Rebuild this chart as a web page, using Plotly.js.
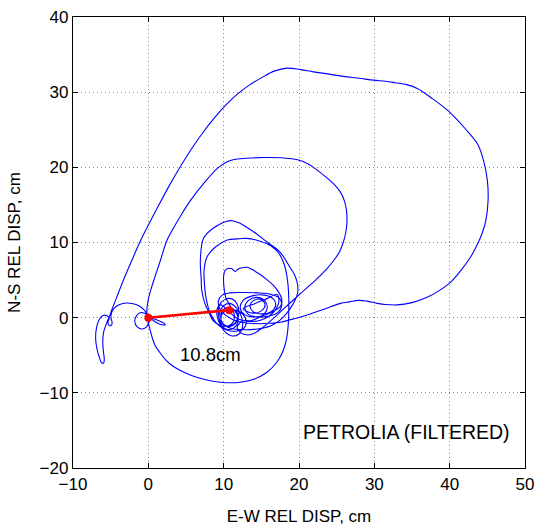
<!DOCTYPE html>
<html>
<head>
<meta charset="utf-8">
<script src="https://cdn.plot.ly/plotly-3.0.1.min.js"></script>
<style>html,body{margin:0;padding:0;background:#fff;}#chart{width:542px;height:526px;}</style>
</head>
<body>
<div id="chart"></div>
<script>
// Ground displacement trajectory (cm)
const ewDisp = [
  0, 0.7, 1.5, 2.1, 2.25, 1.8, 1.0, 0.3,
  0.05, -0.3, -0.9, -1.5, -1.8, -1.6, -1.1, -0.5, -0.1,
  -0.45, -1.2, -2.0, -2.9, -3.8, -4.5, -4.9,
  -4.95, -4.8, -4.95, -5.25, -5.35, -5.2,
  -5.5, -6.0, -6.5, -6.85, -7.0, -6.85, -6.5, -6.2, -5.95, -5.85, -5.95, -6.05, -5.95, -5.6, -5.2,
  -4.75, -4.2, -3.3, -2.2, -1.1, 0.3, 1.5, 2.8, 4.2, 5.7, 7.3, 8.8, 10.3, 11.9, 13.5, 15.0, 16.7, 18.4,
  20.2, 21.9, 24.0, 25.9, 28.0, 29.9, 31.5, 32.8, 34.3, 35.7, 37.5, 39.7, 42.1, 43.7, 44.5, 45.0, 45.1,
  44.8, 44.3, 43.7, 42.8, 41.5, 40.1, 38.6, 37.0, 35.0, 33.0, 31.5, 30.4, 29.0, 27.9, 26.7, 25.5, 23.5,
  21.5, 19.5, 17.5, 16.0, 14.9, 13.5, 12.5,
  11.3, 10.3, 9.5, 9.3, 9.8, 10.8, 12.5, 14.5, 16.3, 17.4, 17.7, 17.2, 16.0, 14.4, 13.2, 12.8, 13.3,
  14.4, 15.4, 15.8, 15.4, 14.6, 13.6, 12.6, 11.8, 12.2, 13.2, 14.2, 15.2, 16.6, 18.2, 20.2, 22.4,
  23.7, 24.6, 25.4, 25.9, 26.2, 26.35, 26.3, 26.0, 25.5, 24.7, 23.7, 22.2, 21.1, 19.8, 18.0, 15.3,
  13.0, 11.4, 10.4, 9.2, 7.3, 5.6, 4.2, 3.1, 2.4, 1.6, 0.9, 0.3, -0.05, -0.2, -0.1, 0.15, 0.5, 0.9,
  1.5, 2.3, 3.2, 4.2, 6.0, 8.2, 10.3, 12.2, 14.0, 15.7, 17.0, 17.9, 18.4, 18.6, 18.65, 18.6, 18.4,
  18.0, 17.3, 16.2, 14.4, 13.0, 12.2, 10.4, 8.9, 7.8, 7.4, 7.45, 7.6, 8.0, 8.6, 9.3, 10.3, 11.5,
  12.6, 13.0, 12.6, 11.6, 10.5, 9.7, 9.8, 10.6, 11.6, 12.0, 11.8, 11.1, 10.1, 9.4, 9.3,
  9.6, 10.6, 12.5, 14.5, 16.2, 17.4, 18.3, 19.2, 19.8, 19.8, 19.4, 18.8, 17.5, 15.7, 14.3, 13.1,
  12.1, 11.1, 10.3, 9.6, 8.6, 7.8, 7.3, 7.1, 6.95, 6.9, 7.0, 7.1, 7.5, 8.1, 8.6, 9.5, 10.6, 11.3,
  11.4, 10.9, 10.3, 10.1, 10.0, 10.0, 10.2, 10.6, 11.1, 11.5, 11.9, 12.4, 13.1, 13.8, 14.6, 15.7,
  16.6, 17.3, 17.7, 17.6, 16.9, 15.6, 14.0, 12.8, 12.2, 12.6, 13.8, 15.4, 16.6, 16.9, 16.3, 15.0,
  13.9, 13.5, 14.0, 15.0, 15.5, 15.0, 13.9, 12.6, 14.2, 15.7, 17.1, 17.3, 16.5, 15.0, 13.3, 11.8,
  10.6, 9.6, 9.1, 9.3, 10.0, 11.0, 12.0, 12.5, 12.4, 11.8, 10.8, 9.9, 9.4, 9.6, 10.3, 11.3, 11.9,
  11.7, 10.9, 10.0, 9.6, 9.9, 10.8, 11.6, 11.9, 11.5, 10.75
];
const nsDisp = [
  0, -0.15, -0.45, -0.75, -0.95, -0.95, -0.6, -0.2,
  -0.7, -1.3, -1.5, -1.2, -0.5, 0.2, 0.65, 0.6, 0.3,
  0.9, 1.55, 1.85, 1.95, 1.75, 1.3, 0.6,
  -0.1, -0.65, -1.05, -1.0, -0.55, -0.1,
  0.25, 0.3, -0.2, -1.2, -2.6, -4.0, -5.3, -6.0, -6.05, -5.6, -4.6, -3.3, -2.0, -0.9, 0.1,
  1.3, 2.7, 5.0, 7.6, 10.1, 12.9, 15.2, 17.6, 20.0, 22.4, 24.7, 26.6, 28.3, 29.8, 31.0, 31.9, 32.8, 33.2,
  33.0, 32.7, 32.4, 32.1, 31.85, 31.6, 31.45, 31.25, 31.0, 30.5, 29.3, 27.6, 25.1, 23.1, 20.9, 18.3, 15.6,
  12.9, 11.2, 9.8, 8.1, 6.3, 4.7, 3.6, 2.7, 2.0, 1.7, 1.75, 1.9, 2.2, 2.3, 2.1, 1.9, 1.2,
  0.5, -0.1, -0.6, -0.75, -0.8, -0.75, -0.6,
  -0.3, 0.3, 1.2, 2.2, 3.0, 3.3, 3.35, 3.3, 3.1, 2.6, 1.6, 0.7, 0.2, 0.1, 0.5, 1.4, 2.3,
  2.7, 2.3, 1.4, 0.5, 0.0, -0.4, -0.4, -1.2, -2.0, -2.3, -2.0, -1.3, -0.1, 1.4, 3.2, 5.2,
  6.5, 7.6, 8.8, 10.1, 11.3, 12.5, 14.3, 15.6, 16.7, 17.7, 18.6, 19.8, 20.5, 21.0, 21.25, 21.3,
  21.2, 21.05, 20.7, 19.9, 17.8, 15.6, 13.4, 11.5, 10.1, 7.6, 5.5, 3.6, 2.2, 0.9, -0.3, -1.3, -2.6, -3.7,
  -4.6, -5.6, -6.4, -7.0, -7.8, -8.4, -8.65, -8.6, -8.2, -7.3, -6.0, -4.4, -2.5, -0.5, 1.5, 3.6, 5.5,
  7.2, 8.6, 9.6, 10.3, 10.55, 10.5, 10.3, 9.4, 8.1, 6.3, 4.5, 3.0, 1.2, -0.1, -1.0, -1.6, -1.8,
  -1.5, -0.6, 0.4, 1.0, 1.0, 0.3, -0.7, -1.1, -0.6, 0.5, 1.8, 2.5, 2.4, 1.6, 0.5,
  -0.6, -1.3, -1.6, -1.5, -1.1, -0.4, 0.5, 1.8, 3.2, 4.5, 5.7, 6.7, 8.7, 10.1, 11.2, 12.0,
  12.6, 12.9, 12.8, 12.5, 11.9, 11.2, 10.5, 9.8, 8.5, 7.2, 5.4, 3.6, 1.9, 0.6, -0.4, -1.0, -1.1, -0.5,
  0.5, 1.5, 2.6, 3.6, 4.5, 5.6, 6.3, 6.55, 6.5, 6.15, 6.45, 6.65, 6.7, 6.4, 5.9, 5.1,
  4.3, 3.4, 2.5, 1.6, 1.0, 0.4, 0.1, 0.4, 1.3, 2.3, 2.9, 3.0, 2.5, 1.6, 0.8, 0.5,
  0.8, 1.6, 2.3, 2.4, 1.7, 0.9, 0.6, 1.2, 1.9, 2.5, 3.1, 2.0, 0.6, -0.3, -0.5, -0.1,
  0.9, 1.7, 1.0, -0.4, -1.7, -2.4, -2.2, -1.2, 0.0, 1.2, 1.9, 1.5, 0.4, -0.8, -1.5, -1.4, -0.5,
  0.6, 1.3, 1.1, 0.2, -0.8, -1.2, -0.7, 0.2, 1.0, 1.0
];
// Permanent offset vector: start -> end
const vectorX = [0, 10.75];
const vectorY = [0, 1.0];
const offsetLabel = '10.8cm';
const stationLabel = 'PETROLIA (FILTERED)';
const xTickVals = [-10, 0, 10, 20, 30, 40, 50];
const yTickVals = [-20, -10, 0, 10, 20, 30, 40];

const FONT = 'Liberation Sans, Arial, Helvetica, sans-serif';

const traces = [
  {
    x: ewDisp, y: nsDisp, type: 'scatter', mode: 'lines',
    line: {color: '#0000ff', width: 1.1, shape: 'spline', smoothing: 1},
    hoverinfo: 'skip'
  },
  {
    x: vectorX, y: vectorY, type: 'scatter', mode: 'lines+markers',
    line: {color: '#ff0000', width: 2.6},
    marker: {color: '#ff0000', size: 8, symbol: 'circle'},
    hoverinfo: 'skip'
  }
];

const axisCommon = {
  showgrid: true, gridcolor: '#8a8a8a', gridwidth: 1, griddash: '1px,3px',
  zeroline: false, showline: true, linecolor: '#000', linewidth: 1.2,
  mirror: 'ticks', ticks: 'inside', ticklen: 5, tickcolor: '#000', tickwidth: 1,
  tickfont: {family: FONT, size: 17, color: '#000'},
  fixedrange: true
};

const layout = {
  width: 542, height: 526,
  margin: {l: 73, r: 17, t: 17, b: 58},
  paper_bgcolor: '#fff', plot_bgcolor: '#fff',
  showlegend: false,
  font: {family: FONT, color: '#000'},
  xaxis: Object.assign({}, axisCommon, {
    range: [-10, 50], tickvals: xTickVals,
    title: {text: 'E-W REL DISP, cm', font: {family: FONT, size: 17, color: '#000'}, standoff: 18}
  }),
  yaxis: Object.assign({}, axisCommon, {
    range: [-20, 40], tickvals: yTickVals,
    title: {text: 'N-S REL DISP, cm', font: {family: FONT, size: 17, color: '#000'}, standoff: 14}
  }),
  annotations: [
    {x: 8.3, y: -4.9, xref: 'x', yref: 'y', text: offsetLabel, showarrow: false,
     font: {family: FONT, size: 18.5, color: '#000'}},
    {x: 34.25, y: -15.2, xref: 'x', yref: 'y', text: stationLabel, showarrow: false,
     font: {family: FONT, size: 19.5, color: '#000'}}
  ]
};

Plotly.newPlot('chart', traces, layout, {staticPlot: true, displayModeBar: false});
</script>
</body>
</html>
